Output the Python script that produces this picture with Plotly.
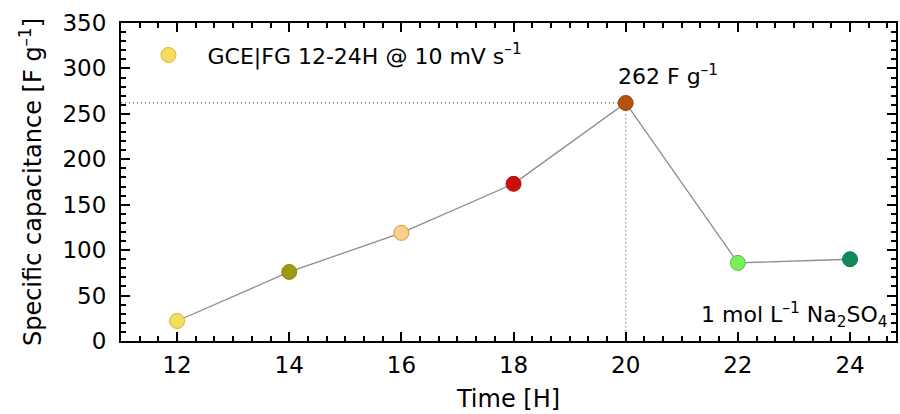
import plotly.graph_objects as go

time_h = [12, 14, 16, 18, 20, 22, 24]
capacitance = [22, 76, 119, 173, 262, 86, 90]
fill_colors = ["#f0e060", "#9c9a12", "#f6cf95", "#cc0e0c", "#b5520e", "#78f05a", "#0f8a58"]
edge_colors = ["#f0a830", "#8a8a10", "#f59020", "#b01010", "#9a4010", "#5cc040", "#0a7a48"]
peak_x, peak_y = 20, 262
x_ticks = [12, 14, 16, 18, 20, 22, 24]
y_ticks = [0, 50, 100, 150, 200, 250, 300, 350]

FONT = "DejaVu Sans"
FS = 24

fig = go.Figure()
fig.add_trace(go.Scatter(x=time_h, y=capacitance, mode="lines",
                         line=dict(color="#8c8c8c", width=1.3),
                         showlegend=False, hoverinfo="skip"))
# dotted guide lines
fig.add_trace(go.Scatter(x=[11, peak_x, peak_x], y=[peak_y, peak_y, 0], mode="lines",
                         line=dict(color="#666666", width=1.2, dash="1px,3px"),
                         showlegend=False, hoverinfo="skip"))
fig.add_trace(go.Scatter(x=time_h, y=capacitance, mode="markers",
                         marker=dict(size=15, color=fill_colors,
                                     line=dict(color=edge_colors, width=1)),
                         showlegend=False))
# legend entry
fig.add_trace(go.Scatter(x=[None], y=[None], mode="markers",
                         marker=dict(size=15, color=fill_colors[0],
                                     line=dict(color=edge_colors[0], width=1)),
                         name="GCE|FG 12-24H @ 10 mV s<sup>–1</sup>", showlegend=True))

fig.add_annotation(x=peak_x, y=peak_y, xref="x", yref="y", text="262 F g<sup>–1</sup>",
                   showarrow=False, xanchor="left", yanchor="bottom", xshift=-10, yshift=12,
                   font=dict(size=FS - 2, color="black", family=FONT))
fig.add_annotation(x=1, y=0, xref="paper", yref="paper",
                   text="1 mol L<sup>–1</sup> Na<sub>2</sub>SO<sub>4</sub>",
                   showarrow=False, xanchor="right", yanchor="bottom", xshift=-6, yshift=8,
                   font=dict(size=FS - 2, color="black", family=FONT))

axis_common = dict(showline=True, linecolor="black", linewidth=2, mirror="ticks",
                   ticks="inside", ticklen=9, tickwidth=2, tickcolor="black",
                   showgrid=False, zeroline=False,
                   tickfont=dict(size=FS - 1, color="black", family=FONT))

fig.update_xaxes(range=[11, 24.82], tickvals=x_ticks,
                 minor=dict(dtick=1/3, tick0=11, ticks="inside", ticklen=5, tickwidth=1.5, tickcolor="black", showgrid=False),
                 title=dict(text="Time [H]", font=dict(size=FS, color="black", family=FONT), standoff=14),
                 ticklabelstandoff=2,
                 **axis_common)
fig.update_yaxes(range=[0, 350], tickvals=y_ticks,
                 minor=dict(dtick=10, tick0=0, ticks="inside", ticklen=5, tickwidth=1.5, tickcolor="black", showgrid=False),
                 title=dict(text="Specific capacitance [F g<sup>–1</sup>]", font=dict(size=FS, color="black", family=FONT), standoff=14),
                 ticklabelstandoff=8,
                 **axis_common)

fig.update_layout(width=900, height=414, margin=dict(l=121, r=2, t=23, b=73),
                  plot_bgcolor="white", paper_bgcolor="white",
                  font=dict(family=FONT, color="black"),
                  legend=dict(x=0.011, y=0.965, xanchor="left", yanchor="top", itemwidth=68,
                              bgcolor="rgba(0,0,0,0)", font=dict(size=FS - 2, family=FONT, color="black")))

fig.write_html("out.html")
